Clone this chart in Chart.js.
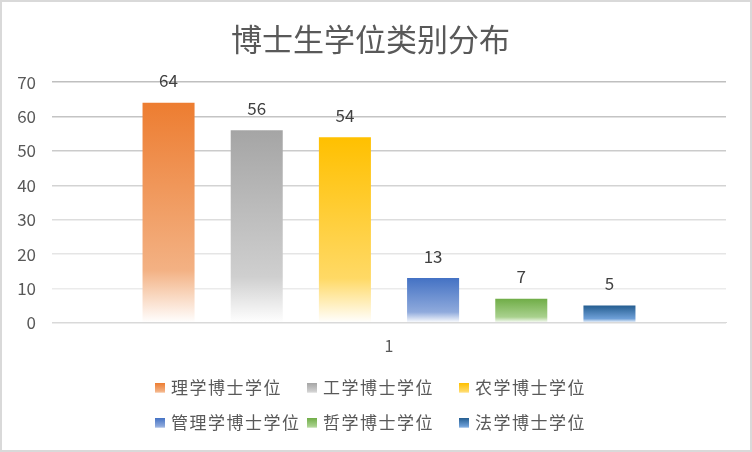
<!DOCTYPE html>
<html>
<head>
<meta charset="utf-8">
<script src="https://cdn.jsdelivr.net/npm/chart.js@4/dist/chart.umd.min.js"></script>
<style>
  body { margin: 0; background: #fff; }
  #wrap { position: relative; width: 752px; height: 452px; }
  #frame { position: absolute; left: 0; top: 0; width: 752px; height: 452px; box-sizing: border-box; border: 2px solid #d9d9d9; pointer-events: none; }
</style>
</head>
<body>
<div id="wrap">
  <canvas id="chart" width="752" height="452"></canvas>
  <div id="frame"></div>
</div>
<script>
const titleText = '博士生学位类别分布';
const categories = ['1'];
const seriesNames = ['理学博士学位', '工学博士学位', '农学博士学位', '管理学博士学位', '哲学博士学位', '法学博士学位'];
const seriesValues = [64, 56, 54, 13, 7, 5];
const yTicks = [0, 10, 20, 30, 40, 50, 60, 70];

// top colour and lighter colour used lower in the gradient
const topColors = ['#ED7D31', '#A5A5A5', '#FFC000', '#4472C4', '#70AD47', '#255E91'];
const midColors = ['#F3B183', '#CFCFCF', '#FFD965', '#8FAADC', '#A9D18E', '#6FA0D8'];

const FONT = '"Noto Sans CJK SC", "Noto Sans", sans-serif';

function makeGradient(ctx, top, bottom, i) {
  const g = ctx.createLinearGradient(0, top, 0, bottom);
  g.addColorStop(0, topColors[i]);
  g.addColorStop(0.76, midColors[i]);
  g.addColorStop(1, '#ffffff');
  return g;
}

const gridColors = { 70: '#bfbfbf', 60: '#c4c4c4', 50: '#cbcbcb', 40: '#d3d3d3', 30: '#dddddd', 20: '#e5e5e5', 10: '#ebebeb', 0: '#d9d9d9' };

const datasets = seriesNames.map((name, i) => ({
  label: name,
  data: [seriesValues[i]],
  backgroundColor: function (c) {
    const chart = c.chart;
    if (!chart.chartArea) return topColors[i];
    const y = chart.scales.y;
    return makeGradient(chart.ctx, y.getPixelForValue(seriesValues[i]), y.getPixelForValue(0), i);
  },
  borderWidth: 0,
  categoryPercentage: 0.785,
  barPercentage: 0.59
}));

// value labels above each bar
const valueLabels = {
  id: 'valueLabels',
  afterDatasetsDraw(chart) {
    const ctx = chart.ctx;
    ctx.save();
    ctx.font = '17px ' + FONT;
    ctx.fillStyle = '#404040';
    ctx.textAlign = 'center';
    ctx.textBaseline = 'middle';
    chart.data.datasets.forEach((ds, i) => {
      const bar = chart.getDatasetMeta(i).data[0];
      ctx.fillText(String(ds.data[0]), bar.x, bar.y - 22);
    });
    ctx.restore();
  }
};

// legend in a 3 column grid like the original
const gridLegend = {
  id: 'gridLegend',
  afterDraw(chart) {
    const ctx = chart.ctx;
    ctx.save();
    ctx.font = '17px ' + FONT;
    ctx.textBaseline = 'middle';
    ctx.letterSpacing = '1.5px';
    seriesNames.forEach((name, i) => {
      const col = i % 3, row = Math.floor(i / 3);
      const x = 155 + col * 152;
      const y = 388 + row * 35;
      ctx.fillStyle = makeGradient(ctx, y - 5, y + 6, i);
      ctx.fillRect(x, y - 5, 10, 10);
      ctx.fillStyle = '#595959';
      ctx.fillText(name, x + 16, y);
    });
    ctx.restore();
  }
};

new Chart(document.getElementById('chart'), {
  type: 'bar',
  data: { labels: categories, datasets: datasets },
  options: {
    responsive: false,
    animation: false,
    layout: { padding: { left: 15, right: 26, top: 0, bottom: 82 } },
    plugins: {
      legend: { display: false },
      tooltip: { enabled: false },
      title: {
        display: true,
        text: titleText,
        color: '#595959',
        font: { family: FONT, size: 31, weight: 'normal' },
        padding: { top: 21, bottom: 24 }
      }
    },
    scales: {
      x: {
        grid: { display: false, drawTicks: false },
        border: { color: '#d9d9d9' },
        ticks: { color: '#595959', font: { family: FONT, size: 16 }, padding: 14 }
      },
      y: {
        min: 0,
        max: 70,
        afterBuildTicks(scale) { scale.ticks = yTicks.map(v => ({ value: v })); },
        afterFit(scale) { scale.width = 37; },
        grid: { color: c => gridColors[c.tick.value] || '#d9d9d9', lineWidth: 1.5, drawTicks: false },
        border: { display: false },
        ticks: { color: '#595959', font: { family: FONT, size: 17 }, padding: 16 }
      }
    }
  },
  plugins: [valueLabels, gridLegend]
});
</script>
</body>
</html>
